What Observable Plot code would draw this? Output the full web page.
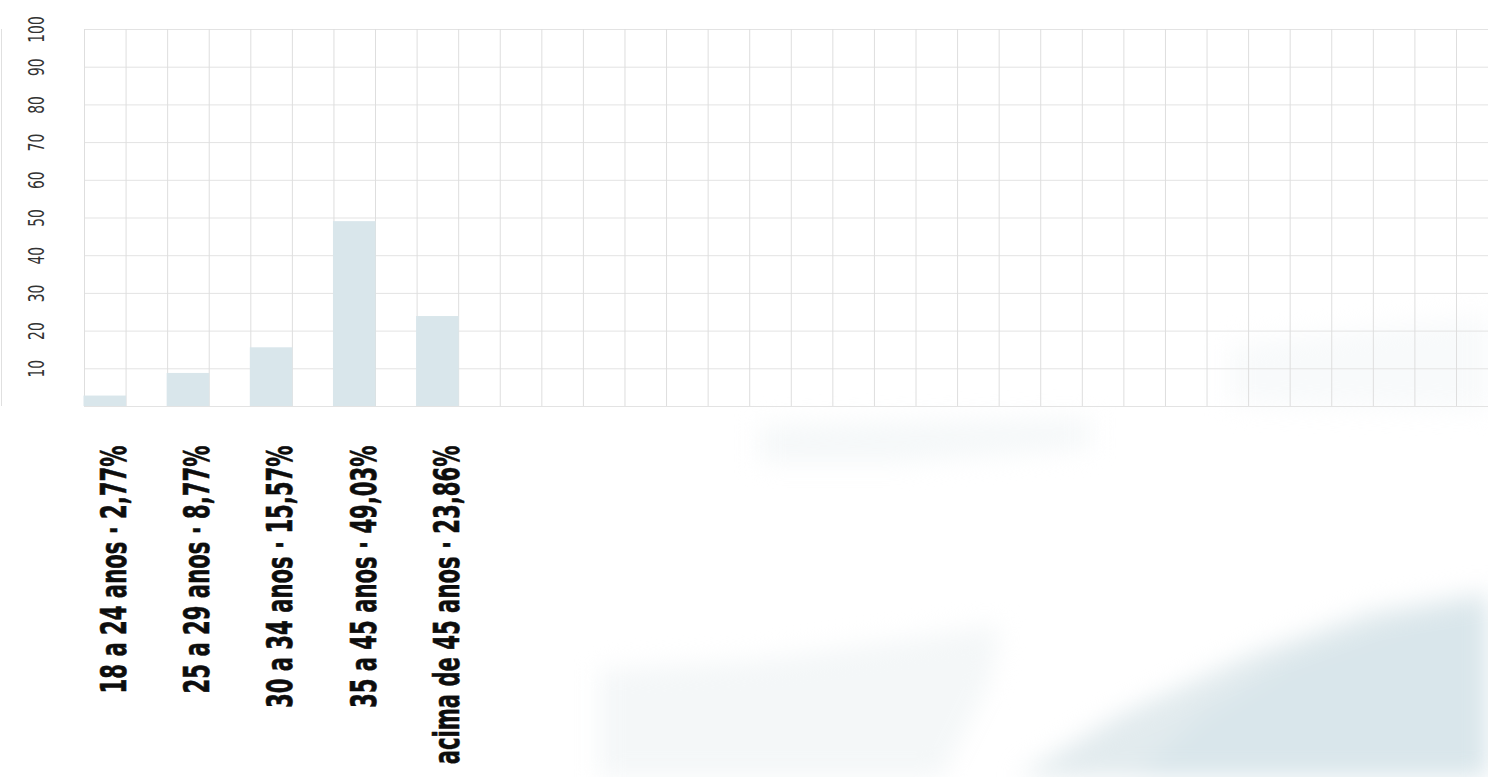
<!DOCTYPE html>
<html>
<head>
<meta charset="utf-8">
<script src="https://cdn.jsdelivr.net/npm/d3@7"></script>
<script src="https://cdn.jsdelivr.net/npm/@observablehq/plot@0.6"></script>
<style>
  html, body { margin: 0; padding: 0; background: #fff; width: 1488px; height: 777px; overflow: hidden; }
  #bg { position: absolute; inset: 0; filter: blur(12px); }
  #bg div { position: absolute; inset: 0; }
  #chart { position: absolute; left: 0; top: 0; }
  svg { font-family: "Liberation Sans Narrow", "Arial Narrow", "DejaVu Sans Condensed", "DejaVu Sans", sans-serif; font-stretch: condensed; }
</style>
</head>
<body>
<div id="bg">
  <div style="background:#f4f7f8; clip-path: polygon(600px 800px, 600px 670px, 760px 660px, 900px 640px, 1000px 625px, 990px 680px, 930px 800px);"></div>
  <div style="background:#f5f8f9; clip-path: polygon(760px 425px, 1090px 418px, 1090px 448px, 900px 462px, 760px 462px);"></div>
  <div style="background:#f8fafb; clip-path: polygon(1230px 345px, 1488px 315px, 1488px 410px, 1230px 405px);"></div>
  <div style="background:#e2ebee; clip-path: polygon(980px 800px, 1120px 715px, 1250px 655px, 1370px 612px, 1500px 590px, 1500px 800px);"></div>
  <div style="background:#d9e6eb; clip-path: polygon(1110px 800px, 1200px 715px, 1290px 660px, 1400px 622px, 1500px 600px, 1500px 800px);"></div>
</div>
<div id="chart"></div>
<script>
const categories = ["18 a 24 anos", "25 a 29 anos", "30 a 34 anos", "35 a 45 anos", "acima de 45 anos"];
const values = [2.77, 8.77, 15.57, 49.03, 23.86];
const yTicks = [10, 20, 30, 40, 50, 60, 70, 80, 90, 100];
const gridCols = d3.range(0, 34);

const fmt = v => v.toFixed(2).replace(".", ",");
const data = categories.map((c, i) => ({
  cat: c,
  value: values[i],
  slot: i * 2,
  label: `${c} · ${fmt(values[i])}%`
}));

const chart = Plot.plot({
  width: 1488,
  height: 777,
  marginLeft: 84,
  marginRight: 0,
  marginTop: 29,
  marginBottom: 371,
  style: { background: "transparent", overflow: "visible" },
  x: { type: "linear", domain: [0, 33.77], axis: null },
  y: { domain: [0, 100], axis: null },
  marks: [
    Plot.ruleY([0, ...yTicks], { stroke: "#e3e3e3", strokeWidth: 1 }),
    Plot.ruleX(gridCols, { y1: 0, y2: 100, stroke: "#dedede", strokeWidth: 1 }),
    Plot.ruleX([0], { dx: -83, y1: 0, y2: 100, stroke: "#e0e0e0" }),
    Plot.rectY(data, { x1: "slot", x2: d => d.slot + 1, y1: 0, y2: "value", fill: "#d9e6eb", insetLeft: -0.5, insetRight: -0.5 }),
    Plot.text(data, {
      x: d => d.slot + 1, y: 0, text: "label",
      rotate: -90, textAnchor: "end", lineAnchor: "bottom",
      dy: 39, fontSize: 35, fontWeight: "bold", fill: "#0d0d0d",
      stroke: "#0d0d0d", strokeWidth: 0.6,
      className: "cat-label"
    }),
    Plot.text(yTicks, {
      y: d => d, text: d => String(d), frameAnchor: "left",
      dx: -41, rotate: -90, textAnchor: "middle", lineAnchor: "bottom",
      fontSize: 22, fill: "#333",
      className: "y-tick"
    })
  ]
});
document.getElementById("chart").appendChild(chart);

// condense glyphs to mimic the narrow typeface of the original
function condense(selector, factor) {
  chart.querySelectorAll(selector + " text").forEach(t => {
    const len = t.getComputedTextLength();
    t.setAttribute("textLength", (len * factor).toFixed(1));
    t.setAttribute("lengthAdjust", "spacingAndGlyphs");
  });
}
condense(".cat-label", 0.672);
condense(".y-tick", 0.7);
</script>
</body>
</html>
